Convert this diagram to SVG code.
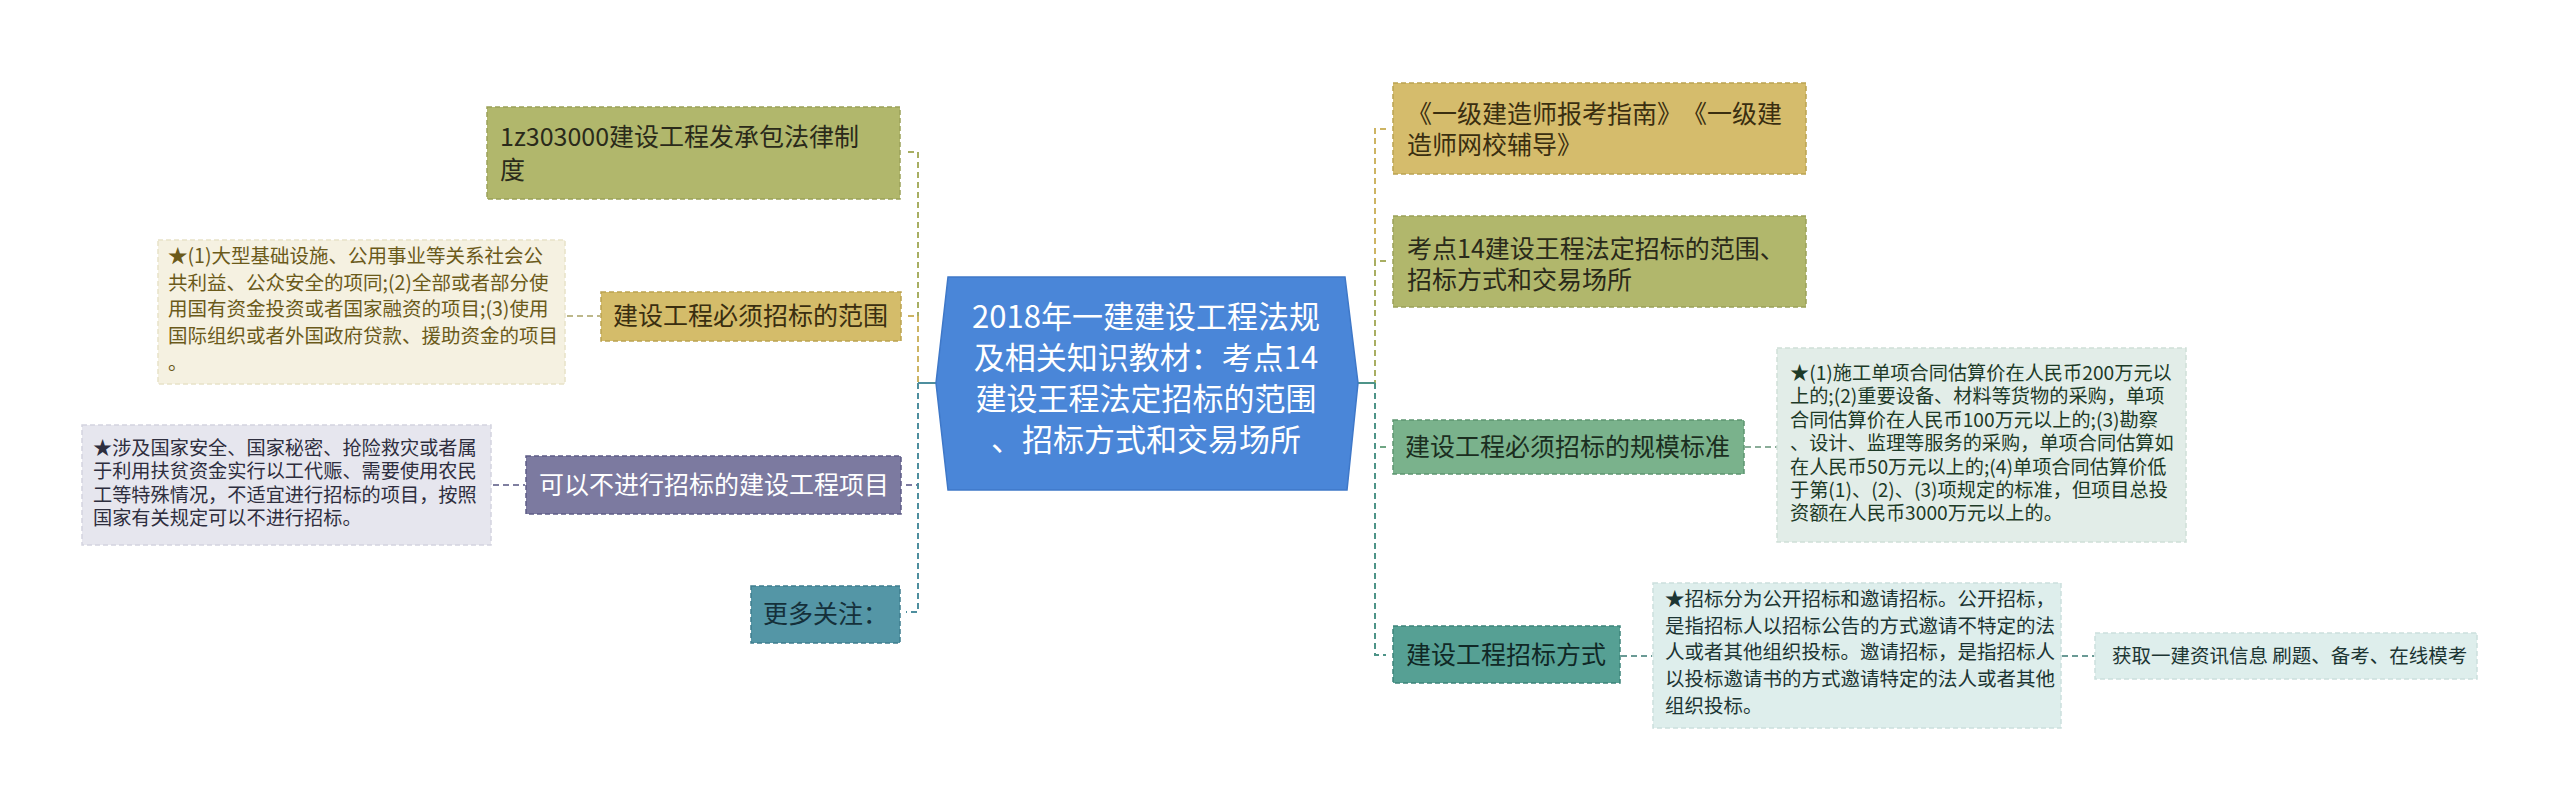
<svg xmlns="http://www.w3.org/2000/svg" width="2560" height="811" viewBox="0 0 2560 811">
<style>
text{font-family:"Noto Sans CJK SC","Microsoft YaHei",sans-serif;text-spacing-trim:space-all;}
.b{font-size:25px;}
.n{font-size:19.5px;}
.m{font-size:19.2px;}
.box{stroke-width:1.5;stroke-dasharray:5 3;}
.c{fill:none;stroke-width:2;stroke-dasharray:6 4;}
.s{fill:none;stroke-width:2;}
</style>
<rect width="2560" height="811" fill="#ffffff"/>
<g id="connectors">
<path class="c" d="M908,152 H918 V316" stroke="#a8ae62"/>
<path class="c" d="M908,316 H918 V383" stroke="#cdb463"/>
<path class="c" d="M906,485 H918" stroke="#7c7aa0"/>
<path class="c" d="M918,383 V612 H906" stroke="#4e8e9e"/>
<path class="s" d="M918,383 H937" stroke="#4e8e9e"/>
<path class="c" d="M1386,129 H1375 V261" stroke="#cdb463"/>
<path class="c" d="M1386,261 H1375 V383" stroke="#a8ae62"/>
<path class="c" d="M1386,447 H1375" stroke="#6fa683"/>
<path class="c" d="M1375,383 V655 H1386" stroke="#4e9488"/>
<path class="s" d="M1358,383 H1375" stroke="#4e9488"/>
<path class="c" d="M567,316 H600" stroke="#bdb88a" stroke-width="1.5"/>
<path class="c" d="M493,485 H525" stroke="#7f7fa0" stroke-width="1.5"/>
<path class="c" d="M1745,447 H1777" stroke="#8aad98" stroke-width="1.5"/>
<path class="c" d="M1621,656 H1652" stroke="#6a9a95" stroke-width="1.5"/>
<path class="c" d="M2062,656 H2094" stroke="#6a9a95" stroke-width="1.5"/>
</g>
<g id="center">
<polygon points="948,277 1345,277 1358,383 1347,490 948,490 936,383" fill="#4a86d8" stroke="#3f78c8" stroke-width="1.5"/>
<g fill="#ffffff" font-size="31" text-anchor="middle">
<text x="1146" y="328">2018年一建建设工程法规</text>
<text x="1146" y="369">及相关知识教材：考点14</text>
<text x="1146" y="410">建设王程法定招标的范围</text>
<text x="1146" y="451">、招标方式和交易场所</text>
</g>
</g>
<g id="l1">
<rect class="box" x="487" y="107" width="413" height="92" fill="#b1b76c" stroke="#9aa158"/>
<text class="b" x="500" y="146" fill="#2a2a1a">1z303000建设工程发承包法律制</text>
<text class="b" x="500" y="179" fill="#2a2a1a">度</text>
</g>
<g id="l2">
<rect class="box" x="601" y="292" width="300" height="49" fill="#d4bc6a" stroke="#bba250"/>
<text class="b" x="613" y="325" fill="#3a2e10">建设工程必须招标的范围</text>
</g>
<g id="l2note">
<rect class="box" x="158" y="240" width="407" height="144" fill="#f5f1e1" stroke="#e8e2c8"/>
<g class="n" fill="#6b5a1a">
<text x="168" y="263">★(1)大型基础设施、公用事业等关系社会公</text>
<text x="168" y="289.7">共利益、公众安全的项同;(2)全部或者部分使</text>
<text x="168" y="316.4">用国有资金投资或者国家融资的项目;(3)使用</text>
<text x="168" y="343.1">国际组织或者外国政府贷款、援助资金的项目</text>
<text x="168" y="369.8">。</text>
</g>
</g>
<g id="l3">
<rect class="box" x="526" y="456" width="375" height="58" fill="#7c7aa0" stroke="#5e5c86"/>
<text class="b" x="539" y="494" fill="#ffffff">可以不进行招标的建设工程项目</text>
</g>
<g id="l3note">
<rect class="box" x="82" y="425" width="409" height="120" fill="#e6e6ee" stroke="#d4d4e0"/>
<g class="m" fill="#2e2e3e">
<text x="93" y="455">★涉及国家安全、国家秘密、抢险救灾或者属</text>
<text x="93" y="478.4">于利用扶贫资金实行以工代赈、需要使用农民</text>
<text x="93" y="501.8">工等特殊情况，不适宜进行招标的项目，按照</text>
<text x="93" y="525.2">国家有关规定可以不进行招标。</text>
</g>
</g>
<g id="l4">
<rect class="box" x="751" y="586" width="149" height="57" fill="#5496a6" stroke="#3e7d8e"/>
<text class="b" x="763" y="623" fill="#15303a">更多关注：</text>
</g>
<g id="r1">
<rect class="box" x="1393" y="83" width="413" height="91" fill="#d5bc6c" stroke="#bba250"/>
<text class="b" x="1407" y="123" fill="#3a2e10">《一级建造师报考指南》《一级建</text>
<text class="b" x="1407" y="154" fill="#3a2e10">造师网校辅导》</text>
</g>
<g id="r2">
<rect class="box" x="1393" y="216" width="413" height="91" fill="#b1b76c" stroke="#9aa158"/>
<text class="b" x="1407" y="258" fill="#2a2a1a">考点14建设王程法定招标的范围、</text>
<text class="b" x="1407" y="289" fill="#2a2a1a">招标方式和交易场所</text>
</g>
<g id="r3">
<rect class="box" x="1393" y="420" width="351" height="54" fill="#7ab28c" stroke="#5d9570"/>
<text class="b" x="1405" y="456" fill="#1b2e20">建设工程必须招标的规模标准</text>
</g>
<g id="r3note">
<rect class="box" x="1777" y="348" width="409" height="194" fill="#e2ede8" stroke="#d0e0d8"/>
<g class="m" fill="#1d3a27">
<text x="1790" y="380">★(1)施工单项合同估算价在人民币200万元以</text>
<text x="1790" y="403.4">上的;(2)重要设备、材料等货物的采购，单项</text>
<text x="1790" y="426.8">合同估算价在人民币100万元以上的;(3)勘察</text>
<text x="1790" y="450.2">、设计、监理等服务的采购，单项合同估算如</text>
<text x="1790" y="473.6">在人民币50万元以上的;(4)单项合同估算价低</text>
<text x="1790" y="497">于第(1)、(2)、(3)项规定的标准，但项目总投</text>
<text x="1790" y="520.4">资额在人民币3000万元以上的。</text>
</g>
</g>
<g id="r4">
<rect class="box" x="1393" y="626" width="227" height="57" fill="#56a094" stroke="#3d8479"/>
<text class="b" x="1406" y="664" fill="#102826">建设工程招标方式</text>
</g>
<g id="r4note">
<rect class="box" x="1653" y="583" width="408" height="145" fill="#deeeec" stroke="#cce0dd"/>
<g class="n" fill="#1c3533">
<text x="1665" y="606">★招标分为公开招标和邀请招标。公开招标，</text>
<text x="1665" y="632.7">是指招标人以招标公告的方式邀请不特定的法</text>
<text x="1665" y="659.4">人或者其他组织投标。邀请招标，是指招标人</text>
<text x="1665" y="686.1">以投标邀请书的方式邀请特定的法人或者其他</text>
<text x="1665" y="712.8">组织投标。</text>
</g>
</g>
<g id="r5">
<rect class="box" x="2095" y="633" width="382" height="46" fill="#deeeec" stroke="#cce0dd"/>
<text class="n" x="2112" y="663" fill="#1c3533">获取一建资讯信息 刷题、备考、在线模考</text>
</g>
</svg>
